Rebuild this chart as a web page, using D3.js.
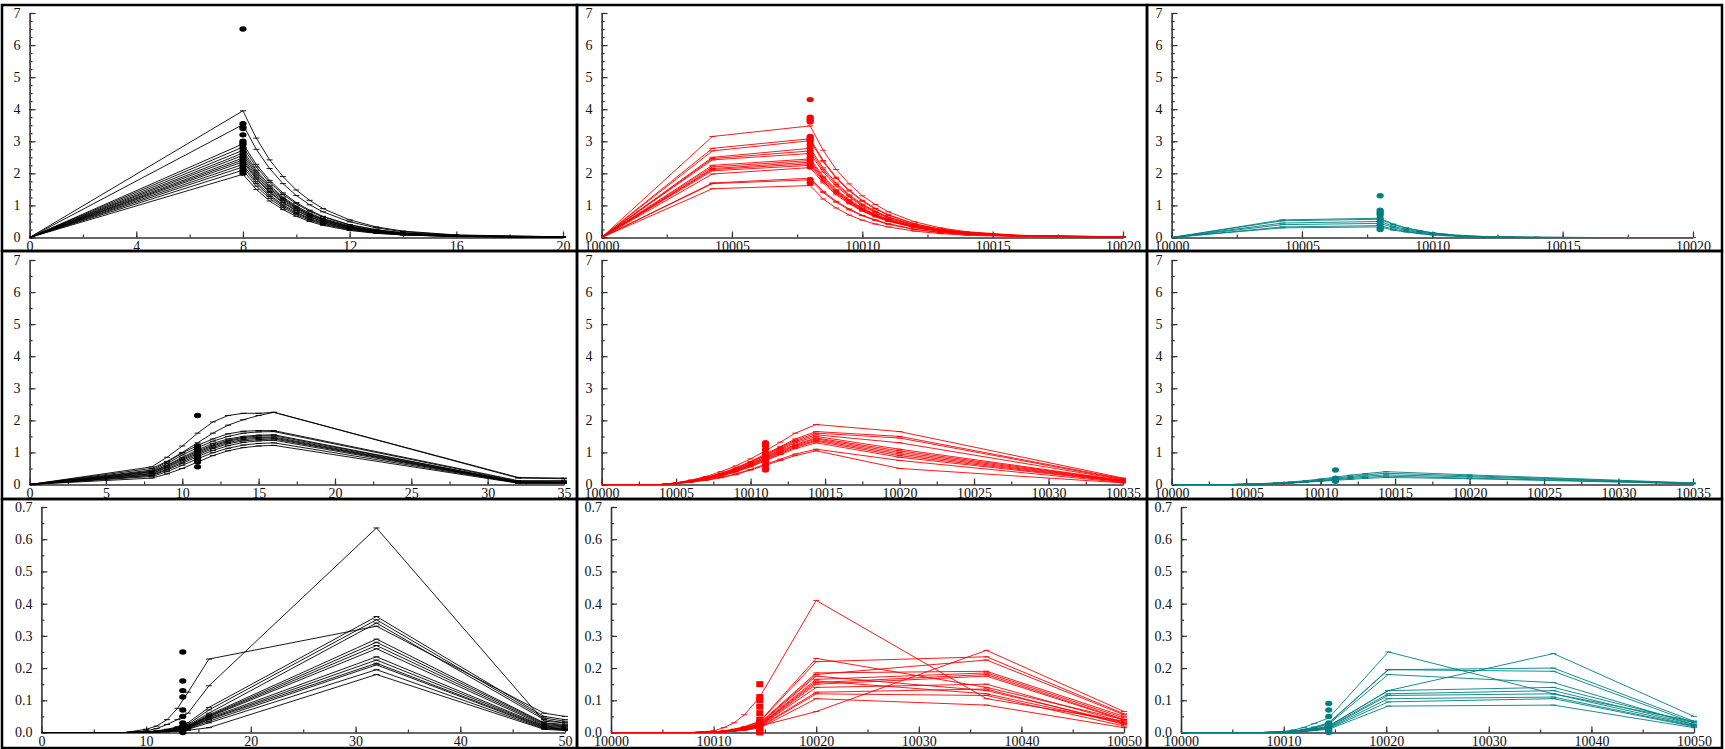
<!DOCTYPE html>
<html>
<head>
<meta charset="utf-8">
<script src="https://cdn.jsdelivr.net/npm/d3@7"></script>
<style>
  body { margin: 0; background: #fff; }
  svg text { font-family: "Liberation Serif", "Times New Roman", serif; font-size: 14px; fill: #111; }
</style>
</head>
<body>
<svg width="1725" height="749"></svg>
<script>
// ---- row 1 : single dose ----
const timesR1C1 = [0, 8, 8.5, 9, 9.5, 10, 10.5, 11, 12, 13, 14, 16, 20];
const seriesR1C1 = [
  [0, 3.95, 3.10, 2.42, 1.90, 1.48, 1.16, 0.90, 0.55, 0.33, 0.20, 0.08, 0.02],
  [0, 3.52, 2.75, 2.15, 1.68, 1.31, 1.02, 0.80, 0.49, 0.30, 0.18, 0.07, 0.02],
  [0, 2.92, 2.28, 1.78, 1.39, 1.09, 0.85, 0.66, 0.40, 0.24, 0.15, 0.06, 0.01],
  [0, 2.82, 2.20, 1.72, 1.34, 1.05, 0.82, 0.64, 0.39, 0.24, 0.14, 0.05, 0.01],
  [0, 2.72, 2.10, 1.63, 1.26, 0.98, 0.76, 0.59, 0.36, 0.22, 0.13, 0.05, 0.01],
  [0, 2.63, 2.04, 1.58, 1.22, 0.95, 0.73, 0.57, 0.34, 0.20, 0.12, 0.04, 0.01],
  [0, 2.56, 1.98, 1.53, 1.19, 0.92, 0.71, 0.55, 0.33, 0.20, 0.12, 0.04, 0.01],
  [0, 2.48, 1.92, 1.48, 1.15, 0.89, 0.69, 0.53, 0.32, 0.19, 0.11, 0.04, 0.01],
  [0, 2.42, 1.86, 1.43, 1.10, 0.85, 0.65, 0.50, 0.30, 0.18, 0.11, 0.04, 0.01],
  [0, 2.36, 1.82, 1.40, 1.08, 0.83, 0.64, 0.49, 0.29, 0.17, 0.10, 0.04, 0.01],
  [0, 2.28, 1.74, 1.33, 1.02, 0.78, 0.60, 0.46, 0.27, 0.16, 0.09, 0.03, 0.01],
  [0, 2.20, 1.68, 1.28, 0.98, 0.75, 0.57, 0.44, 0.26, 0.15, 0.09, 0.03, 0.01],
  [0, 2.10, 1.60, 1.22, 0.93, 0.71, 0.54, 0.41, 0.24, 0.14, 0.08, 0.03, 0.01],
  [0, 1.97, 1.50, 1.14, 0.87, 0.66, 0.50, 0.38, 0.22, 0.13, 0.08, 0.03, 0.01]
];
const dotsR1C1 = [6.5, 3.55, 3.45, 3.4, 3.2, 3.0, 2.95, 2.9, 2.8, 2.7, 2.6, 2.5, 2.4, 2.3, 2.2, 2.1, 2.0];

const timesR1C2 = [10000, 10004.25, 10008, 10008.5, 10009, 10009.5, 10010, 10010.5, 10011, 10012, 10013, 10014, 10016, 10020];
const seriesR1C2 = [
  [0, 3.15, 3.48, 2.72, 2.12, 1.67, 1.30, 1.03, 0.80, 0.49, 0.30, 0.18, 0.07, 0.02],
  [0, 2.78, 3.08, 2.40, 1.88, 1.48, 1.16, 0.91, 0.71, 0.43, 0.26, 0.16, 0.06, 0.02],
  [0, 2.70, 3.02, 2.36, 1.84, 1.45, 1.13, 0.89, 0.69, 0.42, 0.26, 0.16, 0.06, 0.02],
  [0, 2.50, 2.78, 2.17, 1.70, 1.33, 1.04, 0.82, 0.64, 0.39, 0.24, 0.14, 0.06, 0.01],
  [0, 2.46, 2.70, 2.11, 1.65, 1.30, 1.01, 0.80, 0.62, 0.38, 0.23, 0.14, 0.05, 0.01],
  [0, 2.42, 2.62, 2.04, 1.60, 1.26, 0.98, 0.77, 0.60, 0.37, 0.22, 0.14, 0.05, 0.01],
  [0, 2.25, 2.45, 1.91, 1.49, 1.18, 0.92, 0.72, 0.56, 0.34, 0.21, 0.13, 0.05, 0.01],
  [0, 2.20, 2.40, 1.87, 1.46, 1.15, 0.90, 0.71, 0.55, 0.34, 0.20, 0.12, 0.05, 0.01],
  [0, 2.15, 2.35, 1.83, 1.43, 1.13, 0.88, 0.69, 0.54, 0.33, 0.20, 0.12, 0.05, 0.01],
  [0, 2.12, 2.30, 1.79, 1.40, 1.10, 0.86, 0.68, 0.53, 0.32, 0.20, 0.12, 0.05, 0.01],
  [0, 2.08, 2.25, 1.75, 1.37, 1.08, 0.84, 0.66, 0.52, 0.32, 0.19, 0.12, 0.05, 0.01],
  [0, 1.98, 2.18, 1.70, 1.33, 1.05, 0.82, 0.64, 0.50, 0.31, 0.19, 0.11, 0.04, 0.01],
  [0, 1.70, 1.85, 1.44, 1.13, 0.89, 0.69, 0.55, 0.43, 0.26, 0.16, 0.10, 0.04, 0.01],
  [0, 1.68, 1.80, 1.40, 1.10, 0.86, 0.68, 0.53, 0.41, 0.25, 0.15, 0.09, 0.04, 0.01],
  [0, 1.52, 1.62, 1.20, 0.92, 0.70, 0.54, 0.42, 0.33, 0.20, 0.12, 0.07, 0.03, 0.01]
];
const dotsR1C2 = [4.3, 3.75, 3.7, 3.65, 3.6, 3.15, 3.1, 3.05, 3.0, 2.9, 2.8, 2.7, 2.6, 2.5, 2.4, 2.3, 2.2, 1.8, 1.7];

const timesR1C3 = timesR1C2;
const seriesR1C3 = [
  [0, 0.55, 0.60, 0.42, 0.30, 0.22, 0.15, 0.10, 0.07, 0.03, 0.01, 0.01, 0, 0],
  [0, 0.52, 0.57, 0.40, 0.29, 0.21, 0.14, 0.10, 0.06, 0.03, 0.01, 0.01, 0, 0],
  [0, 0.45, 0.50, 0.35, 0.25, 0.18, 0.12, 0.09, 0.05, 0.02, 0.01, 0, 0, 0],
  [0, 0.40, 0.44, 0.31, 0.22, 0.16, 0.11, 0.08, 0.05, 0.02, 0.01, 0, 0, 0],
  [0, 0.33, 0.37, 0.26, 0.19, 0.13, 0.09, 0.06, 0.04, 0.02, 0.01, 0, 0, 0],
  [0, 0.30, 0.33, 0.23, 0.17, 0.12, 0.08, 0.06, 0.04, 0.02, 0.01, 0, 0, 0]
];
const dotsR1C3 = [1.3, 0.85, 0.8, 0.75, 0.7, 0.6, 0.5, 0.4, 0.3, 0.25];

// ---- row 2 ----
const timesR2C1 = [0, 8, 9, 10, 11, 12, 13, 14, 15, 16, 32, 35];
const seriesR2C1 = [
  [0, 0.55, 0.85, 1.20, 1.60, 1.95, 2.15, 2.22, 2.22, 2.25, 0.22, 0.20],
  [0, 0.50, 0.72, 1.00, 1.30, 1.60, 1.85, 2.02, 2.15, 2.25, 0.20, 0.18],
  [0, 0.45, 0.70, 0.98, 1.22, 1.42, 1.58, 1.66, 1.68, 1.68, 0.12, 0.12],
  [0, 0.42, 0.65, 0.92, 1.15, 1.35, 1.50, 1.60, 1.64, 1.65, 0.10, 0.10],
  [0, 0.40, 0.60, 0.85, 1.08, 1.28, 1.42, 1.50, 1.54, 1.55, 0.08, 0.08],
  [0, 0.38, 0.58, 0.82, 1.04, 1.23, 1.38, 1.47, 1.51, 1.52, 0.08, 0.07],
  [0, 0.35, 0.55, 0.78, 1.00, 1.20, 1.35, 1.44, 1.47, 1.48, 0.07, 0.06],
  [0, 0.33, 0.52, 0.75, 0.96, 1.16, 1.31, 1.40, 1.44, 1.45, 0.06, 0.06],
  [0, 0.30, 0.48, 0.70, 0.92, 1.12, 1.27, 1.36, 1.40, 1.42, 0.06, 0.05],
  [0, 0.28, 0.45, 0.66, 0.87, 1.06, 1.21, 1.31, 1.36, 1.38, 0.05, 0.05],
  [0, 0.25, 0.40, 0.60, 0.80, 0.99, 1.13, 1.23, 1.28, 1.30, 0.05, 0.04],
  [0, 0.20, 0.33, 0.50, 0.70, 0.90, 1.05, 1.15, 1.20, 1.22, 0.04, 0.04]
];
const dotsR2C1 = [2.15, 1.2, 1.15, 1.1, 1.05, 1.0, 0.95, 0.9, 0.85, 0.8, 0.75, 0.7, 0.55];

const timesR2C2 = [10000, 10004, 10005, 10006, 10007, 10008, 10009, 10010, 10011, 10012, 10013, 10014.4, 10020, 10035];
const seriesR2C2 = [
  [0, 0, 0.05, 0.14, 0.25, 0.40, 0.58, 0.80, 1.05, 1.32, 1.60, 1.87, 1.65, 0.20],
  [0, 0, 0.05, 0.12, 0.22, 0.35, 0.52, 0.72, 0.95, 1.18, 1.42, 1.65, 1.50, 0.18],
  [0, 0, 0.05, 0.12, 0.22, 0.34, 0.50, 0.70, 0.92, 1.15, 1.38, 1.60, 1.45, 0.16],
  [0, 0, 0.04, 0.11, 0.20, 0.32, 0.48, 0.68, 0.90, 1.12, 1.34, 1.55, 1.30, 0.15],
  [0, 0, 0.04, 0.11, 0.20, 0.31, 0.46, 0.65, 0.87, 1.08, 1.30, 1.50, 1.10, 0.13],
  [0, 0, 0.04, 0.10, 0.19, 0.30, 0.45, 0.63, 0.84, 1.05, 1.25, 1.45, 1.05, 0.12],
  [0, 0, 0.04, 0.10, 0.18, 0.29, 0.43, 0.61, 0.82, 1.02, 1.22, 1.42, 1.00, 0.11],
  [0, 0, 0.04, 0.10, 0.18, 0.28, 0.42, 0.59, 0.79, 0.99, 1.19, 1.38, 0.95, 0.10],
  [0, 0, 0.03, 0.09, 0.17, 0.27, 0.40, 0.57, 0.77, 0.96, 1.16, 1.35, 0.90, 0.09],
  [0, 0, 0.03, 0.09, 0.16, 0.26, 0.39, 0.55, 0.74, 0.93, 1.12, 1.30, 0.85, 0.08],
  [0, 0, 0.03, 0.08, 0.14, 0.22, 0.33, 0.47, 0.63, 0.79, 0.95, 1.10, 0.75, 0.06],
  [0, 0, 0.03, 0.07, 0.13, 0.21, 0.31, 0.45, 0.60, 0.75, 0.90, 1.05, 0.50, 0.05]
];
const dotsR2C2 = [1.3, 1.25, 1.2, 1.1, 1.0, 0.95, 0.9, 0.85, 0.8, 0.75, 0.7, 0.6, 0.5, 0.45];

const timesR2C3 = timesR2C2;
const seriesR2C3 = [
  [0, 0, 0.01, 0.03, 0.05, 0.08, 0.12, 0.17, 0.23, 0.29, 0.34, 0.40, 0.30, 0.05],
  [0, 0, 0.01, 0.02, 0.04, 0.07, 0.10, 0.15, 0.20, 0.25, 0.30, 0.35, 0.27, 0.04],
  [0, 0, 0.01, 0.02, 0.04, 0.06, 0.09, 0.13, 0.17, 0.22, 0.26, 0.30, 0.24, 0.03],
  [0, 0, 0.01, 0.02, 0.03, 0.05, 0.08, 0.11, 0.15, 0.19, 0.22, 0.26, 0.20, 0.03],
  [0, 0, 0.01, 0.02, 0.03, 0.04, 0.07, 0.10, 0.13, 0.16, 0.19, 0.22, 0.18, 0.02]
];
const dotsR2C3 = [0.45, 0.2, 0.15, 0.1];

// ---- row 3 ----
const timesR3C1 = [0, 8, 10, 11, 12, 13, 14, 16, 32, 48, 50];
const seriesR3C1 = [
  [0, 0, 0.005, 0.012, 0.025, 0.04, 0.06, 0.145, 0.635, 0.035, 0.03],
  [0, 0, 0.01, 0.02, 0.04, 0.075, 0.125, 0.228, 0.33, 0.06, 0.05],
  [0, 0, 0.002, 0.005, 0.01, 0.018, 0.03, 0.078, 0.36, 0.05, 0.04],
  [0, 0, 0.002, 0.004, 0.008, 0.015, 0.025, 0.07, 0.35, 0.045, 0.035],
  [0, 0, 0.001, 0.004, 0.008, 0.014, 0.022, 0.06, 0.34, 0.04, 0.03],
  [0, 0, 0.001, 0.003, 0.007, 0.012, 0.02, 0.055, 0.29, 0.03, 0.025],
  [0, 0, 0.001, 0.003, 0.006, 0.011, 0.019, 0.052, 0.28, 0.028, 0.022],
  [0, 0, 0.001, 0.003, 0.006, 0.01, 0.018, 0.05, 0.27, 0.025, 0.02],
  [0, 0, 0.001, 0.002, 0.005, 0.009, 0.016, 0.048, 0.26, 0.022, 0.018],
  [0, 0, 0.001, 0.002, 0.005, 0.009, 0.015, 0.045, 0.235, 0.02, 0.015],
  [0, 0, 0.001, 0.002, 0.004, 0.008, 0.014, 0.042, 0.225, 0.018, 0.012],
  [0, 0, 0.001, 0.002, 0.004, 0.008, 0.013, 0.04, 0.215, 0.016, 0.01],
  [0, 0, 0.001, 0.002, 0.004, 0.007, 0.012, 0.035, 0.21, 0.014, 0.01],
  [0, 0, 0.001, 0.002, 0.003, 0.006, 0.01, 0.03, 0.195, 0.012, 0.008],
  [0, 0, 0, 0.001, 0.002, 0.004, 0.007, 0.015, 0.18, 0.01, 0.006]
];
const dotsR3C1 = [0.25, 0.16, 0.13, 0.11, 0.07, 0.05, 0.03, 0.02, 0.015, 0.01, 0.005, 0];

const timesR3C2 = [10000, 10008, 10010, 10011, 10012, 10013, 10014.5, 10020, 10036.6, 10050];
const seriesR3C2 = [
  [0, 0, 0.005, 0.015, 0.03, 0.055, 0.11, 0.41, 0.105, 0.035],
  [0, 0, 0.001, 0.003, 0.006, 0.01, 0.02, 0.065, 0.255, 0.065],
  [0, 0, 0.002, 0.005, 0.01, 0.018, 0.035, 0.23, 0.14, 0.04],
  [0, 0, 0.002, 0.005, 0.01, 0.017, 0.033, 0.22, 0.235, 0.058],
  [0, 0, 0.002, 0.004, 0.009, 0.015, 0.03, 0.185, 0.19, 0.05],
  [0, 0, 0.002, 0.004, 0.008, 0.014, 0.028, 0.18, 0.225, 0.055],
  [0, 0, 0.001, 0.004, 0.008, 0.013, 0.026, 0.175, 0.13, 0.03],
  [0, 0, 0.001, 0.003, 0.007, 0.012, 0.024, 0.165, 0.185, 0.045],
  [0, 0, 0.001, 0.003, 0.007, 0.012, 0.023, 0.16, 0.12, 0.028],
  [0, 0, 0.001, 0.003, 0.006, 0.011, 0.022, 0.155, 0.18, 0.04],
  [0, 0, 0.001, 0.003, 0.006, 0.01, 0.02, 0.15, 0.175, 0.038],
  [0, 0, 0.001, 0.003, 0.006, 0.01, 0.02, 0.14, 0.15, 0.032],
  [0, 0, 0.001, 0.002, 0.005, 0.009, 0.018, 0.125, 0.135, 0.025],
  [0, 0, 0.001, 0.002, 0.005, 0.008, 0.016, 0.12, 0.115, 0.02],
  [0, 0, 0.001, 0.002, 0.004, 0.007, 0.014, 0.105, 0.085, 0.015]
];
const dotsR3C2 = [0.15, 0.11, 0.1, 0.08, 0.06, 0.04, 0.03, 0.02, 0.01, 0.005, 0];

const timesR3C3 = [10000, 10008, 10010, 10011, 10012, 10013, 10014.4, 10020.2, 10036.3, 10050];
const seriesR3C3 = [
  [0, 0, 0.003, 0.008, 0.016, 0.028, 0.045, 0.25, 0.12, 0.035],
  [0, 0, 0.001, 0.003, 0.006, 0.01, 0.02, 0.13, 0.245, 0.05],
  [0, 0, 0.002, 0.005, 0.01, 0.017, 0.03, 0.195, 0.19, 0.03],
  [0, 0, 0.002, 0.004, 0.009, 0.015, 0.028, 0.195, 0.2, 0.035],
  [0, 0, 0.002, 0.004, 0.008, 0.014, 0.026, 0.18, 0.155, 0.025],
  [0, 0, 0.001, 0.003, 0.006, 0.011, 0.02, 0.13, 0.14, 0.03],
  [0, 0, 0.001, 0.003, 0.005, 0.01, 0.018, 0.12, 0.13, 0.025],
  [0, 0, 0.001, 0.002, 0.005, 0.009, 0.016, 0.115, 0.12, 0.022],
  [0, 0, 0.001, 0.002, 0.004, 0.008, 0.014, 0.105, 0.11, 0.02],
  [0, 0, 0.001, 0.002, 0.004, 0.007, 0.012, 0.095, 0.105, 0.018],
  [0, 0, 0.001, 0.002, 0.003, 0.006, 0.01, 0.082, 0.085, 0.015]
];
const dotsR3C3 = [0.09, 0.07, 0.05, 0.03, 0.02, 0.01, 0.005, 0];

// ---- axis ticks ----
const xTicks20 = [0, 4, 8, 12, 16, 20];
const xTicks35 = [0, 5, 10, 15, 20, 25, 30, 35];
const xTicks50 = [0, 10, 20, 30, 40, 50];
const xTicksB20 = [10000, 10005, 10010, 10015, 10020];
const xTicksB35 = [10000, 10005, 10010, 10015, 10020, 10025, 10030, 10035];
const xTicksB50 = [10000, 10010, 10020, 10030, 10040, 10050];
const yTicks7 = [0, 1, 2, 3, 4, 5, 6, 7];
const yTicks07 = [0, 0.1, 0.2, 0.3, 0.4, 0.5, 0.6, 0.7];

const black = "#000000", red = "#ff0000", teal = "#008080";

const panels = [
  {row: 0, col: 0, times: timesR1C1, series: seriesR1C1, dots: dotsR1C1, dotX: 8, color: black, xTicks: xTicks20, xMinor: 2, yTicks: yTicks7, yMinor: 0.25, fmt: "d"},
  {row: 0, col: 1, times: timesR1C2, series: seriesR1C2, dots: dotsR1C2, dotX: 10008, color: red, xTicks: xTicksB20, xMinor: 2.5, yTicks: yTicks7, yMinor: 0.25, fmt: "d"},
  {row: 0, col: 2, times: timesR1C3, series: seriesR1C3, dots: dotsR1C3, dotX: 10008, color: teal, xTicks: xTicksB20, xMinor: 2.5, yTicks: yTicks7, yMinor: 0.25, fmt: "d"},
  {row: 1, col: 0, times: timesR2C1, series: seriesR2C1, dots: dotsR2C1, dotX: 11, color: black, xTicks: xTicks35, xMinor: 2.5, yTicks: yTicks7, yMinor: 0.5, fmt: "d"},
  {row: 1, col: 1, times: timesR2C2, series: seriesR2C2, dots: dotsR2C2, dotX: 10011, color: red, xTicks: xTicksB35, xMinor: 2.5, yTicks: yTicks7, yMinor: 0.5, fmt: "d"},
  {row: 1, col: 2, times: timesR2C3, series: seriesR2C3, dots: dotsR2C3, dotX: 10011, color: teal, xTicks: xTicksB35, xMinor: 2.5, yTicks: yTicks7, yMinor: 0.5, fmt: "d"},
  {row: 2, col: 0, times: timesR3C1, series: seriesR3C1, dots: dotsR3C1, dotX: 13.5, color: black, xTicks: xTicks50, xMinor: 5, yTicks: yTicks07, yMinor: 0.05, fmt: ".1f"},
  {row: 2, col: 1, times: timesR3C2, series: seriesR3C2, dots: dotsR3C2, dotX: 10014.5, color: red, xTicks: xTicksB50, xMinor: 5, yTicks: yTicks07, yMinor: 0.05, fmt: ".1f", square: true},
  {row: 2, col: 2, times: timesR3C3, series: seriesR3C3, dots: dotsR3C3, dotX: 10014.4, color: teal, xTicks: xTicksB50, xMinor: 5, yTicks: yTicks07, yMinor: 0.05, fmt: ".1f"}
];

// layout of the 3x3 grid
const boxX = [[2, 577], [577, 1147], [1147, 1722]];
const boxY = [[5, 251], [251, 499], [499, 748]];
const plotY = [[13, 237.5], [260, 484.5], [507, 732.5]];
const plotX = [
  [[29.6, 563], [601.6, 1123], [1171.6, 1693]],
  [[29.6, 564], [601.6, 1123], [1171.6, 1693]],
  [[41.4, 565], [611, 1124], [1181, 1694]]
];

const svg = d3.select("svg");

panels.forEach(p => {
  const [x0, x1] = plotX[p.row][p.col];
  const [yTop, yBot] = plotY[p.row];
  const xd = [p.xTicks[0], p.xTicks[p.xTicks.length - 1]];
  const yd = [p.yTicks[0], p.yTicks[p.yTicks.length - 1]];
  const x = d3.scaleLinear().domain(xd).range([x0, x1]);
  const y = d3.scaleLinear().domain(yd).range([yBot, yTop]);
  const g = svg.append("g");

  const xMinor = d3.range(xd[0], xd[1] + 1e-9, p.xMinor);
  const yMinor = d3.range(yd[0], yd[1] + 1e-9, p.yMinor);

  const styleAxis = s => {
    s.selectAll("line").attr("stroke", "#333").attr("stroke-width", 1.2);
    s.select(".domain").attr("stroke", "#333").attr("stroke-width", 1.6);
  };

  g.append("g").attr("transform", `translate(0,${yBot})`)
    .call(d3.axisBottom(x).tickValues(xMinor).tickSize(-3).tickFormat(""))
    .call(s => s.select(".domain").remove())
    .call(styleAxis);
  g.append("g").attr("transform", `translate(${x0},0)`)
    .call(d3.axisLeft(y).tickValues(yMinor).tickSize(-3).tickFormat(""))
    .call(s => s.select(".domain").remove())
    .call(styleAxis);

  g.append("g").attr("transform", `translate(0,${yBot})`)
    .call(d3.axisBottom(x).tickValues(p.xTicks).tickSize(-6).tickSizeOuter(0).tickPadding(3.5).tickFormat(d3.format("d")))
    .call(styleAxis)
    .call(s => s.selectAll("text").attr("fill", "#111"));
  g.append("g").attr("transform", `translate(${x0},0)`)
    .call(d3.axisLeft(y).tickValues(p.yTicks).tickSize(-6).tickSizeOuter(0).tickPadding(9).tickFormat(d3.format(p.fmt)))
    .call(styleAxis)
    .call(s => s.selectAll("text").attr("fill", "#111"));

  const line = d3.line().x((d, i) => x(p.times[i])).y(d => y(d));

  g.append("g").selectAll("path").data(p.series).join("path")
    .attr("d", line)
    .attr("fill", "none")
    .attr("stroke", p.color)
    .attr("stroke-width", 0.9);

  // small caps at every sampled point
  const caps = [];
  p.series.forEach(s => s.forEach((v, i) => { if (i > 0) caps.push([p.times[i], v]); }));
  g.append("g").selectAll("line").data(caps).join("line")
    .attr("x1", d => x(d[0]) - 3).attr("x2", d => x(d[0]) + 3)
    .attr("y1", d => y(d[1])).attr("y2", d => y(d[1]))
    .attr("stroke", p.color).attr("stroke-width", 0.9);

  if (p.square) {
    g.append("g").selectAll("rect").data(p.dots).join("rect")
      .attr("x", x(p.dotX) - 3.5).attr("y", d => y(d) - 3)
      .attr("width", 7).attr("height", 6)
      .attr("fill", p.color);
  } else {
    g.append("g").selectAll("ellipse").data(p.dots).join("ellipse")
      .attr("cx", x(p.dotX)).attr("cy", d => y(d))
      .attr("rx", 3.6).attr("ry", 2.7)
      .attr("fill", p.color);
  }

  const [bx0, bx1] = boxX[p.col];
  const [by0, by1] = boxY[p.row];
  svg.append("rect")
    .attr("x", bx0).attr("y", by0)
    .attr("width", bx1 - bx0).attr("height", by1 - by0)
    .attr("fill", "none").attr("stroke", "#000").attr("stroke-width", 2.5);
});
</script>
</body>
</html>
